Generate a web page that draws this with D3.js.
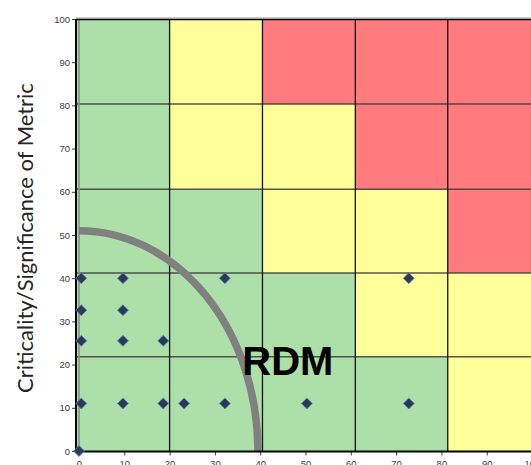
<!DOCTYPE html>
<html>
<head>
<meta charset="utf-8">
<script src="https://cdn.jsdelivr.net/npm/d3@7"></script>
<style>
  html, body { margin: 0; padding: 0; background: #fff; }
  svg { display: block; }
</style>
</head>
<body>
<div id="chart"></div>
<script>
// risk matrix values
var xTicks = [0, 10, 20, 30, 40, 50, 60, 70, 80, 90, 100]
var yTicks = [0, 10, 20, 30, 40, 50, 60, 70, 80, 90, 100]
var colEdges = [0, 20, 40.5, 61, 81.4, 102]
var rowEdges = [0, 21.8, 41.2, 60.6, 80.3, 100]
// zones per row, bottom row first: G green, Y yellow, R red
var zones = [
  ['G', 'G', 'G', 'G', 'Y'],
  ['G', 'G', 'G', 'Y', 'Y'],
  ['G', 'G', 'Y', 'Y', 'R'],
  ['G', 'Y', 'Y', 'R', 'R'],
  ['G', 'Y', 'R', 'R', 'R']
]
var pointsX = [0, 0.5, 9.7, 18.6, 23.2, 32.2, 50.3, 72.8, 0.5, 9.7, 18.6, 0.5, 9.7, 0.5, 9.7, 32.2, 72.8]
var pointsY = [0, 11, 11, 11, 11, 11, 11, 11, 25.5, 25.5, 25.5, 32.6, 32.6, 40, 40, 40, 40]
var arcRadiusX = 39.5
var arcRadiusY = 51
var label = {text: 'RDM', x: 46.1, y: 17.6}
var yTitle = 'Criticality/Significance of Metric'

var zoneColor = {G: '#addfa8', Y: '#ffff99', R: '#ff7b7e'}

var width = 531, height = 465
var svg = d3.select('#chart').append('svg').attr('width', width).attr('height', height)

var x = d3.scaleLinear().domain([0, 100]).range([79, 532])
var y = d3.scaleLinear().domain([0, 100]).range([451, 19])
var axisX = 76

// cells
var cells = []
zones.forEach(function(row, r) {
  row.forEach(function(z, c) {
    cells.push({r: r, c: c, z: z})
  })
})
svg.append('g').selectAll('rect').data(cells).enter().append('rect')
  .attr('x', function(d) { return d.c == 0 ? axisX : x(colEdges[d.c]) })
  .attr('width', function(d) { return x(colEdges[d.c + 1]) - (d.c == 0 ? axisX : x(colEdges[d.c])) })
  .attr('y', function(d) { return y(rowEdges[d.r + 1]) })
  .attr('height', function(d) { return y(rowEdges[d.r]) - y(rowEdges[d.r + 1]) })
  .style('fill', function(d) { return zoneColor[d.z] })

// cell borders
var grid = svg.append('g')
grid.selectAll('.hl').data(rowEdges.slice(1, 5)).enter().append('line')
  .attr('x1', axisX).attr('x2', width)
  .attr('y1', function(d) { return y(d) }).attr('y2', function(d) { return y(d) })
  .attr('stroke', '#3a3a3a').attr('stroke-width', 1.5).attr('stroke-opacity', 0.85)
grid.selectAll('.vl').data(colEdges.slice(1, 5)).enter().append('line')
  .attr('y1', y(100)).attr('y2', y(0))
  .attr('x1', function(d) { return x(d) }).attr('x2', function(d) { return x(d) })
  .attr('stroke', '#111').attr('stroke-width', 1.3)

// x = 0 line and top border
svg.append('line').attr('x1', x(0)).attr('x2', x(0)).attr('y1', y(100)).attr('y2', y(0))
  .attr('stroke', '#8c8c8c').attr('stroke-width', 2).attr('stroke-opacity', 0.8)
svg.append('line').attr('x1', axisX).attr('x2', width).attr('y1', y(100) - 1).attr('y2', y(100) - 1)
  .attr('stroke', '#a6a6a6').attr('stroke-width', 1)
svg.append('line').attr('x1', axisX).attr('x2', width).attr('y1', y(100) + 0.5).attr('y2', y(100) + 0.5)
  .attr('stroke', '#000').attr('stroke-width', 1.5)

// quarter arc
var rx = x(arcRadiusX) - x(0), ry = y(0) - y(arcRadiusY)
svg.append('path')
  .attr('d', 'M' + x(0) + ',' + y(arcRadiusY) + ' A' + rx + ',' + ry + ' 0 0 1 ' + x(arcRadiusX) + ',' + y(0))
  .attr('fill', 'none').attr('stroke', '#808080').attr('stroke-width', 7.5)

// axes
var yAxis = svg.append('g').attr('transform', 'translate(' + axisX + ',0)')
  .call(d3.axisLeft(y).tickValues(yTicks).tickSize(4).tickPadding(2))
var xAxis = svg.append('g').attr('transform', 'translate(0,' + (y(0) + 0.5) + ')')
  .call(d3.axisBottom(x).tickValues(xTicks).tickSize(4).tickPadding(4.5))
;[yAxis, xAxis].forEach(function(a) {
  a.select('.domain').remove()
  a.selectAll('line').attr('stroke', '#404040')
  a.selectAll('text').style('font-family', 'Liberation Sans, Arial, sans-serif')
    .style('font-size', '9.5px').style('fill', '#404040')
})
svg.append('line').attr('x1', axisX).attr('x2', axisX).attr('y1', y(100)).attr('y2', y(0) + 1.5)
  .attr('stroke', '#000').attr('stroke-width', 2)
svg.append('line').attr('x1', axisX).attr('x2', width).attr('y1', y(0) + 0.5).attr('y2', y(0) + 0.5)
  .attr('stroke', '#000').attr('stroke-width', 2)

// points
var diamond = d3.symbol().type(d3.symbolSquare).size(60)
svg.append('g').selectAll('path').data(pointsX).enter().append('path')
  .attr('d', diamond)
  .attr('transform', function(d, i) { return 'translate(' + x(d) + ',' + y(pointsY[i]) + ') rotate(45)' })
  .style('fill', '#2d3a55').style('stroke', '#5b86c6').style('stroke-width', 0.8)

// RDM label
svg.append('text').attr('x', x(label.x)).attr('y', y(label.y))
  .attr('text-anchor', 'middle')
  .style('font-family', 'Liberation Sans, Arial, sans-serif').style('font-weight', 'bold')
  .style('font-size', '40px').style('fill', '#000')
  .text(label.text)

// y axis title, sized to span the same length as in the original
var title = svg.append('text').attr('transform', 'translate(33,238) rotate(-90)')
  .attr('text-anchor', 'middle')
  .style('font-family', 'Lato, Open Sans, sans-serif').style('font-size', '24px').style('fill', '#262626')
  .text(yTitle)
var len = title.node().getComputedTextLength()
title.style('font-size', (24 * 310 / len) + 'px')
</script>
</body>
</html>
